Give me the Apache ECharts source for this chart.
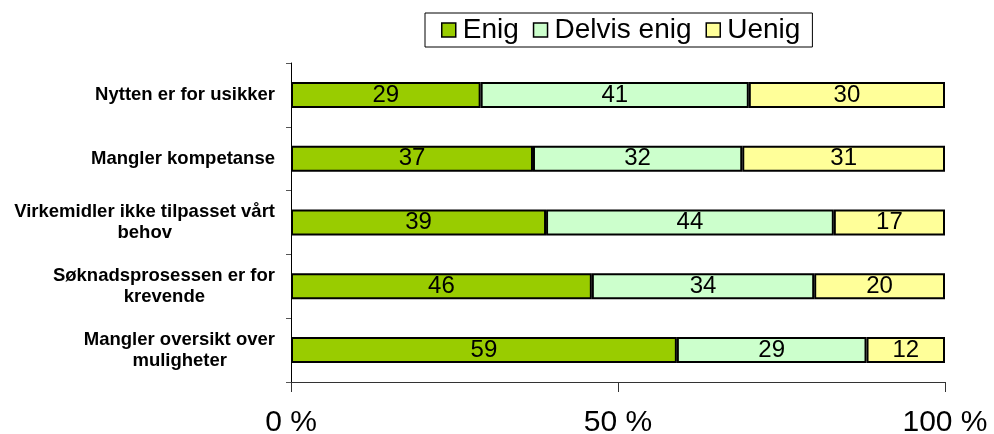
<!DOCTYPE html>
<html>
<head>
<meta charset="utf-8">
<script src="https://cdn.jsdelivr.net/npm/echarts@6/dist/echarts.min.js"></script>
<style>
  html, body { margin: 0; padding: 0; background: #fff; }
  #chart { width: 994px; height: 434px; }
</style>
</head>
<body>
<div id="chart"></div>
<script>
  // data, top to bottom
  const categories = [
    'Nytten er for usikker',
    'Mangler kompetanse',
    'Virkemidler ikke tilpasset vårt\nbehov',
    'Søknadsprosessen er for\nkrevende',
    'Mangler oversikt over\nmuligheter',
  ];
  const seriesNames = ['Enig', 'Delvis enig', 'Uenig'];
  const enig = [29, 37, 39, 46, 59];
  const delvisEnig = [41, 32, 44, 34, 29];
  const uenig = [30, 31, 17, 20, 12];
  const xTicks = [0, 50, 100];

  const colors = ['#99CC00', '#CCFFCC', '#FFFF99'];
  const font = '"Liberation Sans", Arial, sans-serif';
  const catFontSize = 18.5;

  // multi-line category labels are centred line by line like the original.
  // the lines end up right aligned, so shorter ones get right padding of
  // half the difference to the longest line
  const ctx = document.createElement('canvas').getContext('2d');
  ctx.font = 'bold ' + catFontSize + 'px ' + font;
  const catRich = {};
  categories.forEach((c, i) => {
    const lines = c.split('\n');
    const widths = lines.map(l => ctx.measureText(l).width);
    const maxW = Math.max(...widths);
    lines.forEach((l, j) => {
      catRich['c' + i + '_' + j] = {
        padding: [0, Math.round((maxW - widths[j]) / 2), 0, 0],
        fontWeight: 'bold',
        fontSize: catFontSize,
        lineHeight: 21,
        color: '#000',
        fontFamily: font,
      };
    });
  });

  const chart = echarts.init(document.getElementById('chart'));

  const makeSeries = (name, values, color) => ({
    name: name,
    type: 'bar',
    stack: 'total',
    barWidth: 26,
    data: values,
    itemStyle: { color: color, borderColor: '#000', borderWidth: 2 },
    label: {
      show: true,
      position: 'inside',
      color: '#000',
      fontSize: 24,
      fontFamily: font,
    },
  });

  chart.setOption({
    animation: false,
    textStyle: { fontFamily: font },
    color: colors,
    legend: {
      data: seriesNames,
      left: 425,
      top: 13,
      padding: [3, 12, 3, 16],
      itemGap: 14,
      itemWidth: 14,
      itemHeight: 14,
      icon: 'rect',
      borderColor: '#000',
      borderWidth: 1,
      itemStyle: { borderColor: '#000', borderWidth: 1.5 },
      textStyle: { fontSize: 28, color: '#000', fontFamily: font, padding: [0, 0, 0, 2] },
    },
    grid: {
      left: 291, right: 49, top: 63, bottom: 52,
      containLabel: false,
      outerBoundsMode: 'none',
    },
    xAxis: {
      type: 'value',
      min: xTicks[0],
      max: xTicks[xTicks.length - 1],
      interval: xTicks[1] - xTicks[0],
      axisLine: { show: true, lineStyle: { color: '#333', width: 1 } },
      axisTick: { show: true, length: 10, lineStyle: { color: '#333' } },
      splitLine: { show: false },
      axisLabel: {
        formatter: '{value} %',
        fontSize: 30,
        color: '#000',
        margin: 26,
        fontFamily: font,
      },
    },
    yAxis: {
      type: 'category',
      inverse: true,
      data: categories,
      axisLine: { show: true, lineStyle: { color: '#000', width: 1 } },
      axisTick: { show: true, length: 5, lineStyle: { color: '#555' } },
      axisLabel: {
        margin: 16,
        align: 'right',
        formatter: (v, i) => v.split('\n').map((l, j) => '{c' + i + '_' + j + '|' + l + '}').join('\n'),
        rich: catRich,
      },
    },
    series: [
      makeSeries(seriesNames[0], enig, colors[0]),
      makeSeries(seriesNames[1], delvisEnig, colors[1]),
      makeSeries(seriesNames[2], uenig, colors[2]),
    ],
  });
</script>
</body>
</html>
